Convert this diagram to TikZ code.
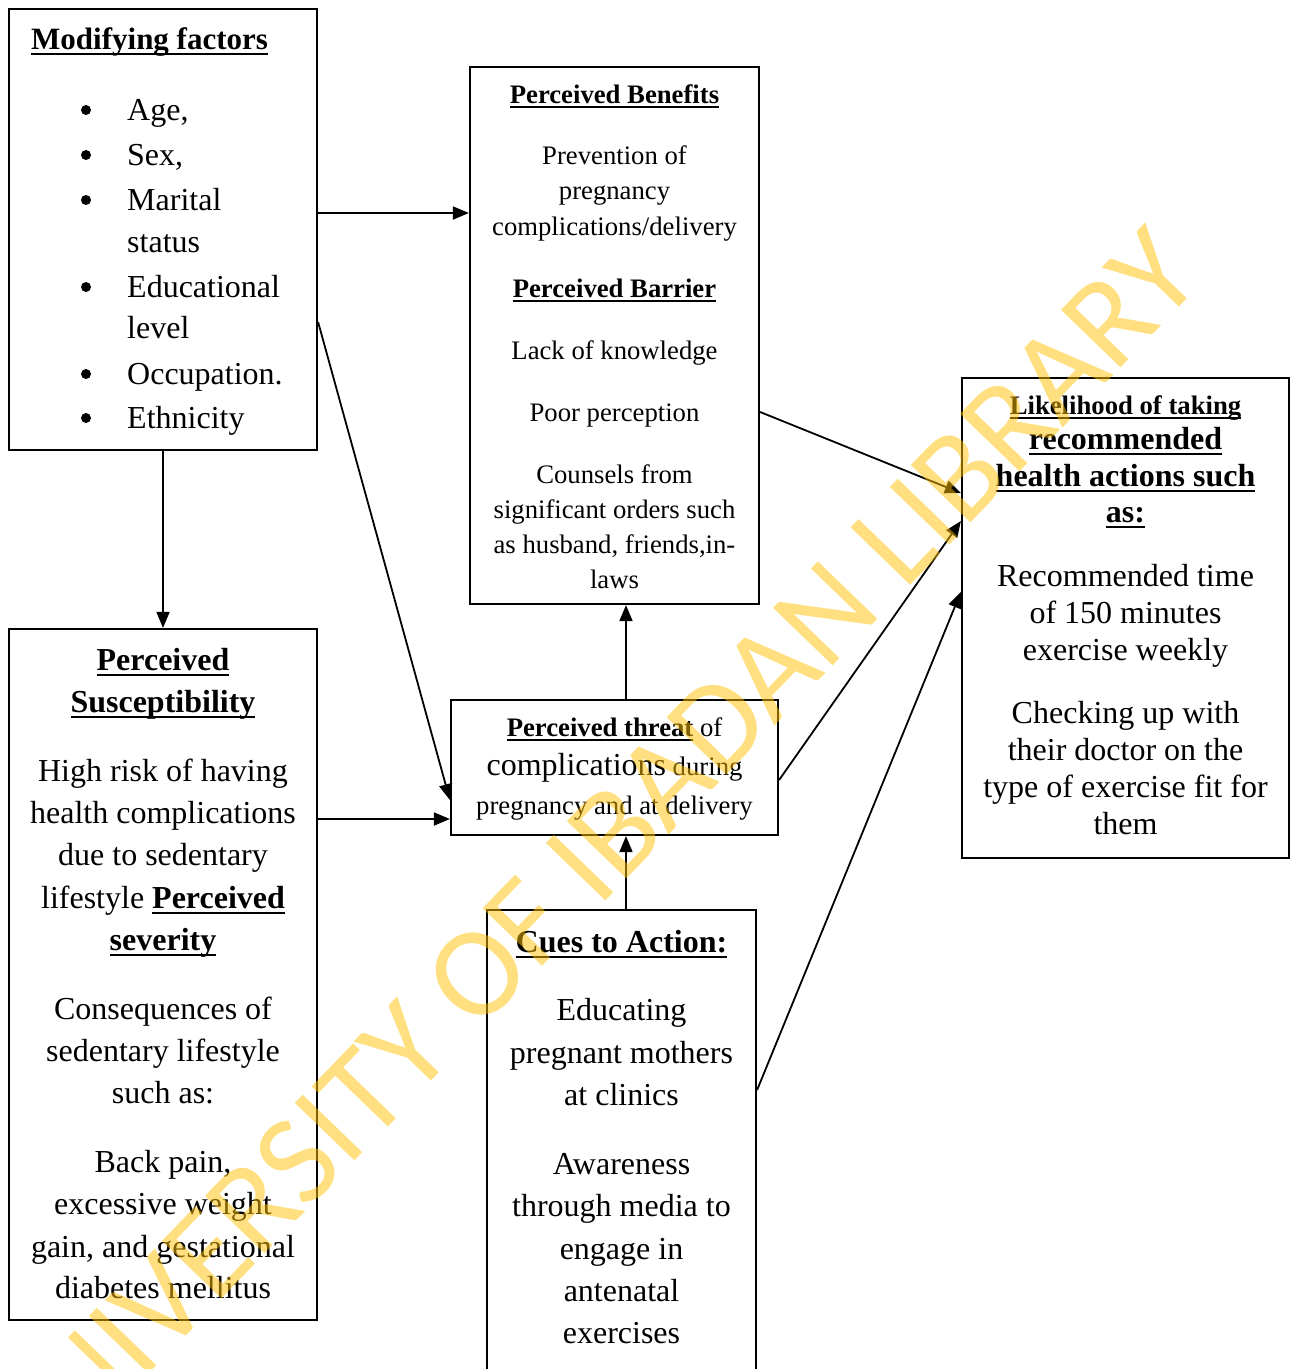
\documentclass[tikz,border=0pt]{standalone}
\usepackage{fontspec}
\setmainfont{Liberation Serif}
\newfontfamily\wmfont{Carlito}
\usetikzlibrary{arrows.meta,fit}
\definecolor{wmc}{HTML}{FFC000}
\newcommand\ulx[1]{\setbox0\hbox{#1}\rlap{\rule[-0.19em]{\wd0}{0.075em}}\box0\relax}
\tikzset{
  box/.style={draw, line width=2.2pt, inner sep=0pt},
  tc/.style={anchor=base, inner sep=0pt},
  tl/.style={anchor=base west, inner sep=0pt},
  fa/.style={font=\fontsize{32}{38}\selectfont},
  fb/.style={font=\fontsize{31}{36}\selectfont},
  fc/.style={font=\fontsize{26.7}{32}\selectfont},
  bul/.style={circle, fill, inner sep=0pt, minimum size=10pt},
  arr/.style={-{Triangle[length=16pt,width=13pt]}, line width=1.8pt},
}
\begin{document}
\begin{tikzpicture}[x=1pt,y=-1pt]
\useasboundingbox (0,0) rectangle (1293,1369);
% boxes
\node[box, fit={(9,9)(317,450)}] (mod) {};
\node[box, fit={(470,67)(759,604)}] (ben) {};
\node[box, fit={(962,378)(1289,858)}] (lik) {};
\node[box, fit={(9,629)(317,1320)}] (sus) {};
\node[box, fit={(451,700)(778,835)}] (thr) {};
\node[box, fit={(487,910)(756,1420)}] (cues) {};

% Modifying factors
\node[tl,fb] (m0) at (31,49) {\ulx{\textbf{Modifying factors}}};
\foreach \y/\t [count=\i] in {120/{Age,},165/{Sex,},210/{Marital},252/{status},297/{Educational},338/{level},384/{Occupation.},428/{Ethnicity}}
  \node[tl,fa] (m\i) at (127,\y) {\t};
\foreach \y [count=\i] in {110,155,200,287,374,418}
  \node[bul] (mb\i) at (86,\y) {};

% Perceived benefits
\foreach \y/\t [count=\i] in {
  103/{\ulx{\textbf{Perceived Benefits}}},
  164/{Prevention of},
  199/{pregnancy},
  235/{complications/delivery},
  297/{\ulx{\textbf{Perceived Barrier}}},
  359/{Lack of knowledge},
  421/{Poor perception},
  483/{Counsels from},
  518/{significant orders such},
  553/{as husband, friends,in-},
  588/{laws}}
  \node[tc,fc] (b\i) at (614.5,\y) {\t};

% Likelihood
\node[tc,fc] (l0) at (1125.5,414) {\ulx{\textbf{Likelihood of taking}}};
\foreach \y/\t [count=\i] in {
  449/{\ulx{\textbf{recommended}}},
  486/{\ulx{\textbf{health actions such}}},
  522/{\ulx{\textbf{as:}}},
  586/{Recommended time},
  623/{of 150 minutes},
  660/{exercise weekly},
  723/{Checking up with},
  760/{their doctor on the},
  797/{type of exercise fit for},
  834/{them}}
  \node[tc,fa] (l\i) at (1125.5,\y) {\t};

% Susceptibility
\foreach \y/\t [count=\i] in {
  670/{\ulx{\textbf{Perceived}}},
  712/{\ulx{\textbf{Susceptibility}}},
  781/{High risk of having},
  823/{health complications},
  865/{due to sedentary},
  908/{lifestyle \ulx{\textbf{Perceived}}},
  950/{\ulx{\textbf{severity}}},
  1019/{Consequences of},
  1061/{sedentary lifestyle},
  1103/{such as:},
  1172/{Back pain,},
  1214/{excessive weight},
  1257/{gain, and gestational},
  1298/{diabetes mellitus}}
  \node[tc,fa] (s\i) at (163,\y) {\t};

% Perceived threat
\node[tc,fc] (t1) at (614.5,736) {\ulx{\textbf{Perceived threat}} of};
\node[tc,fc] (t2) at (614.5,775) {{\fontsize{32}{38}\selectfont complications} during};
\node[tc,fc] (t3) at (614.5,814) {pregnancy and at delivery};

% Cues
\foreach \y/\t [count=\i] in {
  952/{\ulx{\textbf{Cues to Action:}}},
  1020/{Educating},
  1063/{pregnant mothers},
  1105/{at clinics},
  1174/{Awareness},
  1216/{through media to},
  1259/{engage in},
  1301/{antenatal},
  1343/{exercises}}
  \node[tc,fa] (c\i) at (621.5,\y) {\t};

% connector anchors
\coordinate (y213) at (0,213);
\coordinate (y322) at (0,322);
\coordinate (y800) at (0,800);
\coordinate (y819) at (0,819);
\coordinate (x626) at (626,0);
\coordinate (y412) at (0,412);
\coordinate (y493) at (0,493);
\coordinate (y780) at (0,780);
\coordinate (y521) at (0,521);
\coordinate (y1090) at (0,1090);
\coordinate (y592) at (0,592);

\draw[arr] (mod.east |- y213) -- (ben.west |- y213);
\draw[arr] (mod.east |- y322) -- (thr.west |- y800);
\draw[arr] (mod.south) -- (sus.north);
\draw[arr] (sus.east |- y819) -- (thr.west |- y819);
\draw[arr] (thr.north -| x626) -- (ben.south -| x626);
\draw[arr] (cues.north -| x626) -- (thr.south -| x626);
\draw[arr] (ben.east |- y412) -- (lik.west |- y493);
\draw[arr] (thr.east |- y780) -- (lik.west |- y521);
\draw[arr] (cues.east |- y1090) -- (lik.west |- y592);

% watermark
\node[rotate=46, text=wmc, text opacity=0.5, inner sep=0pt,
      font=\wmfont\fontsize{129}{129}\selectfont] (wm) at (586,862) {UNIVERSITY OF IBADAN LIBRARY};
\end{tikzpicture}
\end{document}
